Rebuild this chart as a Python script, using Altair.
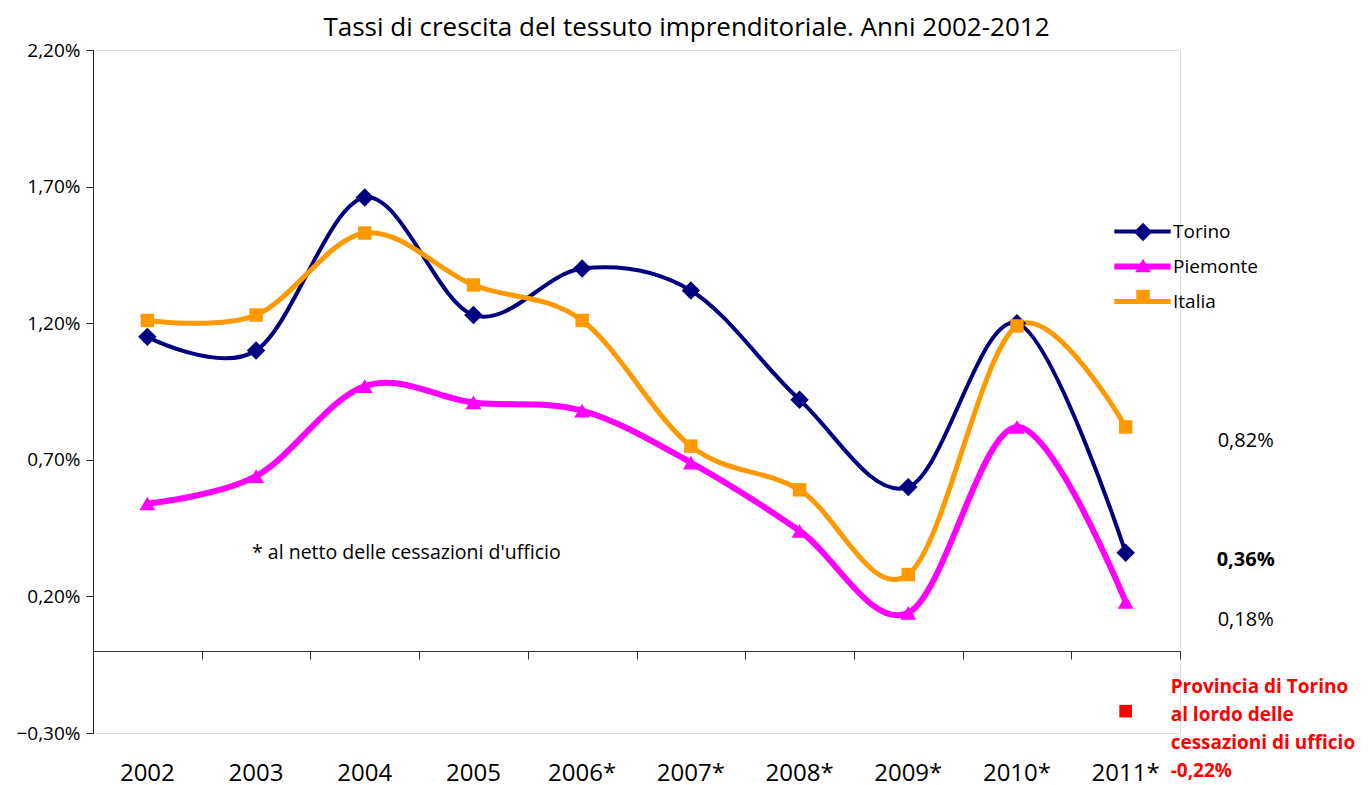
import altair as alt
import pandas as pd

# ---------------- data ----------------
years = ["2002", "2003", "2004", "2005", "2006*", "2007*", "2008*", "2009*", "2010*", "2011*"]
series_names = ["Torino", "Piemonte", "Italia"]
torino = [1.15, 1.10, 1.66, 1.23, 1.40, 1.32, 0.92, 0.60, 1.20, 0.36]
piemonte = [0.54, 0.64, 0.97, 0.91, 0.88, 0.69, 0.44, 0.14, 0.82, 0.18]
italia = [1.21, 1.23, 1.53, 1.34, 1.21, 0.75, 0.59, 0.28, 1.19, 0.82]

series_colors = ["#000080", "#FF00FF", "#FF9900"]
series_shapes = ["diamond", "triangle-up", "square"]
marker_sizes = [340, 250, 180]
line_widths = [4, 6, 5]

y_ticks = [-0.3, 0.2, 0.7, 1.2, 1.7, 2.2]

lordo_year = "2011*"
lordo_value = -0.22
lordo_text = ["Provincia di Torino", "al lordo delle", "cessazioni di ufficio", "-0,22%"]

note_text = "* al netto delle cessazioni d'ufficio"
title_text = "Tassi di crescita del tessuto imprenditoriale. Anni 2002-2012"

rows = []
for name, vals in zip(series_names, [torino, piemonte, italia]):
    for yr, v in zip(years, vals):
        rows.append({"anno": yr, "serie": name, "serie_p": name, "valore": v})
df = pd.DataFrame(rows)

FONT = "Open Sans"

x_scale = alt.Scale(type="band", domain=years, paddingInner=0, paddingOuter=0)
y_scale = alt.Scale(domain=[-0.3, 2.2], nice=False, zero=False)

y_axis = alt.Axis(
    values=y_ticks,
    labelExpr="replace(format(datum.value, '.2f'), '.', ',') + '%'",
    grid=False, domainColor="#222222", tickColor="#222222", tickSize=7,
    labelFontSize=19, labelColor="#000000", labelPadding=6, title=None, labelFont=FONT,
)
y_enc = alt.Y("valore:Q", scale=y_scale, axis=y_axis)

x_label_axis = alt.Axis(
    orient="bottom", domain=False, ticks=False, labelFontSize=24, labelColor="#000000",
    labelPadding=28, title=None, labelFont=FONT, labelAngle=0,
)
x_zero_axis = alt.Axis(
    orient="bottom", labels=False, domain=True, ticks=True, tickBand="extent", tickSize=8,
    offset=-82, domainColor="#333333", tickColor="#333333", title=None,
)


def x_plain():
    return alt.X("anno:O", scale=x_scale, sort=years, axis=None)


line_symbol = "M-4.6,0H4.6"

legend_common = dict(
    orient="none", legendX=1040, legendY=172, title=None, symbolSize=150,
    labelFontSize=19, labelFont=FONT, labelColor="#000000", labelOffset=21, padding=0,
)

lines = alt.Chart(df).mark_line(interpolate="cardinal").encode(
    x=alt.X("anno:O", scale=x_scale, axis=x_label_axis, sort=years),
    y=y_enc,
    color=alt.Color(
        "serie:N",
        scale=alt.Scale(domain=series_names, range=series_colors),
        legend=alt.Legend(symbolType=line_symbol, symbolStrokeWidth=5, rowPadding=12, **legend_common),
    ),
    strokeWidth=alt.StrokeWidth(
        "serie:N", scale=alt.Scale(type="ordinal", domain=series_names, range=line_widths), legend=None
    ),
)

points = alt.Chart(df).mark_point(filled=True, opacity=1).encode(
    x=alt.X("anno:O", scale=x_scale, axis=x_zero_axis, sort=years),
    y=y_enc,
    color=alt.Color(
        "serie_p:N",
        scale=alt.Scale(domain=series_names, range=series_colors),
        legend=alt.Legend(rowPadding=10, symbolOpacity=1, labelOpacity=0, **legend_common),
    ),
    shape=alt.Shape(
        "serie_p:N", scale=alt.Scale(domain=series_names, range=series_shapes),
        legend=alt.Legend(rowPadding=10, symbolOpacity=1, labelOpacity=0, **legend_common),
    ),
    size=alt.Size(
        "serie_p:N", scale=alt.Scale(type="ordinal", domain=series_names, range=marker_sizes), legend=None
    ),
)

base_single = alt.Chart(pd.DataFrame({"anno": [lordo_year], "valore": [lordo_value]}))

red_point = base_single.mark_square(color="#FF0000", size=160, opacity=1).encode(
    x=x_plain(),
    y=y_enc,
)
red_text = base_single.mark_text(
    align="left", baseline="top", dx=45, dy=-33, fontSize=19, fontWeight="bold",
    color="#FF0000", lineHeight=28, font=FONT,
).encode(
    x=x_plain(),
    y=y_enc,
    text=alt.value(lordo_text),
)

last = pd.DataFrame({
    "anno": [lordo_year] * 3,
    "valore": [italia[-1], torino[-1], piemonte[-1]],
})


def value_label(idx, dy, bold):
    d = last.iloc[[idx]].copy()
    d["lab"] = d["valore"].map(lambda v: ("%.2f" % v).replace(".", ",") + "%")
    return alt.Chart(d).mark_text(
        align="center", baseline="middle", dx=120, dy=dy, fontSize=20,
        fontWeight="bold" if bold else "normal", color="#000000", font=FONT,
    ).encode(
        x=x_plain(),
        y=y_enc,
        text="lab:N",
    )


lab_it = value_label(0, 14, False)
lab_to = value_label(1, 7, True)
lab_pi = value_label(2, 18, False)

note = alt.Chart(pd.DataFrame({"anno": ["2003"], "valore": [torino[-1]]})).mark_text(
    align="left", baseline="middle", dx=-4, fontSize=19.5, color="#000000", font=FONT,
).encode(
    x=x_plain(),
    y=y_enc,
    text=alt.value(note_text),
)

chart = alt.layer(
    lines, points, red_point, red_text, lab_it, lab_to, lab_pi, note
).resolve_scale(
    color="independent", shape="independent", size="independent", strokeWidth="independent"
).resolve_axis(
    x="independent"
).properties(
    width=1087, height=683,
    title=alt.TitleParams(
        title_text, fontSize=26, fontWeight="normal", font=FONT, color="#000000",
        anchor="middle", dx=50, dy=27, offset=6, baseline="alphabetic",
    ),
    autosize=alt.AutoSizeParams(type="none"),
    padding={"left": 85, "top": 42, "right": 184, "bottom": 60},
).configure_view(stroke=None).configure(background="white")

chart.save("out.html", embed_options={"renderer": "svg", "actions": False})
